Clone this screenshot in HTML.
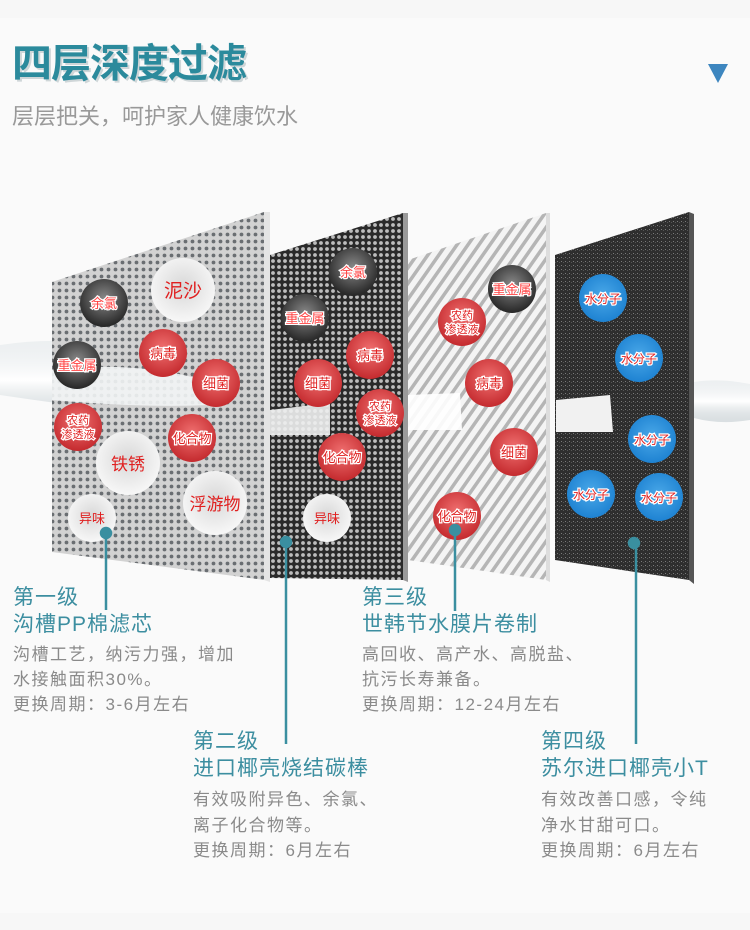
<!DOCTYPE html>
<html><head><meta charset="utf-8"><style>
html,body{margin:0;padding:0;background:#f7f7f7;}
body{width:750px;height:930px;position:relative;overflow:hidden;font-family:"Liberation Sans","Noto Sans CJK SC",sans-serif;}
.t{position:absolute;white-space:nowrap;line-height:1;}
.h{color:#3c8ea0;font-size:21px;letter-spacing:1px;}
.g{color:#8a8a8a;font-size:17px;letter-spacing:1.5px;}
</style></head><body>
<div style="position:absolute;left:0;top:18px;width:750px;height:895px;background:#fafafa"></div>
<div class="t" style="left:12px;top:44px;font-size:40px;font-weight:bold;color:#2b8a9c;text-shadow:2px 2px 0 #cfd6d8;letter-spacing:-1px">四层深度过滤</div>
<div style="position:absolute;left:708px;top:64px;width:0;height:0;border-left:10px solid transparent;border-right:10px solid transparent;border-top:19px solid #3d86bf"></div>
<div class="t" style="left:12px;top:106px;font-size:22px;color:#999">层层把关，呵护家人健康饮水</div>
<svg style="position:absolute;left:0;top:0" width="750" height="930">
<defs>
<pattern id="p1" width="7" height="7" patternUnits="userSpaceOnUse"><rect width="7" height="7" fill="#d2d2d2"/><circle cx="3.5" cy="3.5" r="1.9" fill="#6a6e72"/></pattern>
<pattern id="p2" width="6" height="6" patternUnits="userSpaceOnUse"><rect width="6" height="6" fill="#2a2a2a"/><circle cx="3" cy="3" r="1.9" fill="#bdbdbd"/></pattern>
<pattern id="p3" width="9" height="9" patternUnits="userSpaceOnUse" patternTransform="rotate(35)"><rect width="9" height="9" fill="#f4f4f4"/><rect width="3.5" height="9" fill="#b5b5b5"/></pattern>
<pattern id="p4" width="4" height="4" patternUnits="userSpaceOnUse"><rect width="4" height="4" fill="#2e2e2e"/><rect x="1" y="1" width="1" height="1" fill="#7a7a7a"/><rect x="3" y="2" width="1" height="1" fill="#555"/></pattern>
<radialGradient id="gr" cx="50%" cy="40%" r="60%"><stop offset="0" stop-color="#f07070"/><stop offset="1" stop-color="#c42a2e"/></radialGradient>
<radialGradient id="gd" cx="50%" cy="40%" r="60%"><stop offset="0" stop-color="#888"/><stop offset="1" stop-color="#262626"/></radialGradient>
<radialGradient id="gw" cx="50%" cy="45%" r="60%"><stop offset="0" stop-color="#d8d8d8"/><stop offset="1" stop-color="#fafafa"/></radialGradient>
<radialGradient id="gb" cx="50%" cy="45%" r="60%"><stop offset="0" stop-color="#4aa8e8"/><stop offset="1" stop-color="#1a7fd0"/></radialGradient>
<linearGradient id="wat" x1="0" y1="0" x2="0" y2="1"><stop offset="0" stop-color="#dfe5e8" stop-opacity="0.5"/><stop offset="0.5" stop-color="#ffffff"/><stop offset="1" stop-color="#b9c4c9" stop-opacity="0.5"/></linearGradient>
</defs>
<path d="M0 345 Q100 330 200 370 L200 420 Q100 410 0 395 Z" fill="url(#wat)"/>
<polygon points="52,282 264,212 264,580 52,552" fill="url(#p1)"/>
<polygon points="264,212 270,212 270,582 264,580" fill="#e4e4e4"/>
<path d="M52 370 Q140 360 210 382 L210 405 Q140 408 52 400Z" fill="#f2f4f5" opacity="0.9"/>
<polygon points="270,255 403,213 403,580 270,578" fill="url(#p2)"/>
<polygon points="403,213 408,213 408,582 403,580" fill="#9a9a9a"/>
<path d="M270 410 L330 403 L330 435 L270 435Z" fill="#eef0f0" opacity="0.9"/>
<polygon points="408,260 546,213 546,580 408,560" fill="url(#p3)"/>
<polygon points="546,213 550,213 550,582 546,580" fill="#ddd"/>
<path d="M408 395 L460 393 L462 430 L408 430Z" fill="#fff" opacity="0.9"/>
<polygon points="555,255 689,212 689,580 555,560" fill="url(#p4)"/>
<polygon points="689,212 694,214 694,584 689,580" fill="#555"/>
<path d="M556 400 L610 395 L613 432 L556 432Z" fill="#f1f1f1"/>
<path d="M694 382 Q720 378 750 384 L750 420 Q720 425 694 418Z" fill="url(#wat)"/>
<g font-family="Liberation Sans,Noto Sans CJK SC,sans-serif" text-anchor="middle" font-size="13">
<circle cx="104" cy="303" r="24" fill="url(#gd)"/><text x="104" y="308" fill="#ff4444" stroke="#fff" stroke-width="2.5" paint-order="stroke">余氯</text>
<circle cx="183" cy="290" r="32" fill="url(#gw)"/><text x="183" y="297" fill="#e02020" font-size="19">泥沙</text>
<circle cx="77" cy="365" r="24" fill="url(#gd)"/><text x="77" y="370" fill="#ff4444" stroke="#fff" stroke-width="2.5" paint-order="stroke">重金属</text>
<circle cx="163" cy="353" r="24" fill="url(#gr)"/><text x="163" y="358" fill="#e02020" stroke="#fff" stroke-width="2.5" paint-order="stroke">病毒</text>
<circle cx="216" cy="383" r="24" fill="url(#gr)"/><text x="216" y="388" fill="#e02020" stroke="#fff" stroke-width="2.5" paint-order="stroke">细菌</text>
<circle cx="78" cy="427" r="24" fill="url(#gr)"/><text x="78" y="424" font-size="11" fill="#e02020" stroke="#fff" stroke-width="2.5" paint-order="stroke">农药</text><text x="78" y="438" font-size="11" fill="#e02020" stroke="#fff" stroke-width="2.5" paint-order="stroke">渗透液</text>
<circle cx="192" cy="438" r="24" fill="url(#gr)"/><text x="192" y="443" fill="#e02020" stroke="#fff" stroke-width="2.5" paint-order="stroke">化合物</text>
<circle cx="128" cy="463" r="32" fill="url(#gw)"/><text x="128" y="470" fill="#e02020" font-size="17">铁锈</text>
<circle cx="215" cy="503" r="32" fill="url(#gw)"/><text x="215" y="510" fill="#e02020" font-size="17">浮游物</text>
<circle cx="92" cy="518" r="24" fill="url(#gw)"/><text x="92" y="523" fill="#e02020">异味</text>
<circle cx="353" cy="272" r="24" fill="url(#gd)"/><text x="353" y="277" fill="#ff4444" stroke="#fff" stroke-width="2.5" paint-order="stroke">余氯</text>
<circle cx="305" cy="318" r="24" fill="url(#gd)"/><text x="305" y="323" fill="#ff4444" stroke="#fff" stroke-width="2.5" paint-order="stroke">重金属</text>
<circle cx="370" cy="355" r="24" fill="url(#gr)"/><text x="370" y="360" fill="#e02020" stroke="#fff" stroke-width="2.5" paint-order="stroke">病毒</text>
<circle cx="318" cy="383" r="24" fill="url(#gr)"/><text x="318" y="388" fill="#e02020" stroke="#fff" stroke-width="2.5" paint-order="stroke">细菌</text>
<circle cx="380" cy="413" r="24" fill="url(#gr)"/><text x="380" y="410" font-size="11" fill="#e02020" stroke="#fff" stroke-width="2.5" paint-order="stroke">农药</text><text x="380" y="424" font-size="11" fill="#e02020" stroke="#fff" stroke-width="2.5" paint-order="stroke">渗透液</text>
<circle cx="342" cy="457" r="24" fill="url(#gr)"/><text x="342" y="462" fill="#e02020" stroke="#fff" stroke-width="2.5" paint-order="stroke">化合物</text>
<circle cx="327" cy="518" r="24" fill="url(#gw)"/><text x="327" y="523" fill="#e02020">异味</text>
<circle cx="512" cy="289" r="24" fill="url(#gd)"/><text x="512" y="294" fill="#ff4444" stroke="#fff" stroke-width="2.5" paint-order="stroke">重金属</text>
<circle cx="462" cy="322" r="24" fill="url(#gr)"/><text x="462" y="319" font-size="11" fill="#e02020" stroke="#fff" stroke-width="2.5" paint-order="stroke">农药</text><text x="462" y="333" font-size="11" fill="#e02020" stroke="#fff" stroke-width="2.5" paint-order="stroke">渗透液</text>
<circle cx="489" cy="383" r="24" fill="url(#gr)"/><text x="489" y="388" fill="#e02020" stroke="#fff" stroke-width="2.5" paint-order="stroke">病毒</text>
<circle cx="514" cy="452" r="24" fill="url(#gr)"/><text x="514" y="457" fill="#e02020" stroke="#fff" stroke-width="2.5" paint-order="stroke">细菌</text>
<circle cx="457" cy="516" r="24" fill="url(#gr)"/><text x="457" y="521" fill="#e02020" stroke="#fff" stroke-width="2.5" paint-order="stroke">化合物</text>
<g font-size="12">
<circle cx="603" cy="298" r="24" fill="url(#gb)"/><text x="603" y="303" fill="#e02020" stroke="#fff" stroke-width="2.5" paint-order="stroke">水分子</text>
<circle cx="639" cy="358" r="24" fill="url(#gb)"/><text x="639" y="363" fill="#e02020" stroke="#fff" stroke-width="2.5" paint-order="stroke">水分子</text>
<circle cx="652" cy="439" r="24" fill="url(#gb)"/><text x="652" y="444" fill="#e02020" stroke="#fff" stroke-width="2.5" paint-order="stroke">水分子</text>
<circle cx="591" cy="494" r="24" fill="url(#gb)"/><text x="591" y="499" fill="#e02020" stroke="#fff" stroke-width="2.5" paint-order="stroke">水分子</text>
<circle cx="659" cy="497" r="24" fill="url(#gb)"/><text x="659" y="502" fill="#e02020" stroke="#fff" stroke-width="2.5" paint-order="stroke">水分子</text>
</g>
</g>
<g stroke="#3a8fa0" stroke-width="2.5" fill="#3a8fa0">
<line x1="106" y1="533" x2="106" y2="610"/><circle cx="106" cy="533" r="5"/>
<line x1="286" y1="542" x2="286" y2="744"/><circle cx="286" cy="542" r="5"/>
<line x1="455" y1="530" x2="455" y2="611"/><circle cx="455" cy="530" r="5"/>
<line x1="636" y1="543" x2="636" y2="744"/><circle cx="634" cy="543" r="5"/>
</g>
</svg>
<div class="t h" style="left:13px;top:587px">第一级</div>
<div class="t h" style="left:13px;top:614px">沟槽PP棉滤芯</div>
<div class="t g" style="left:13px;top:646px">沟槽工艺，纳污力强，增加</div>
<div class="t g" style="left:13px;top:671px">水接触面积30%。</div>
<div class="t g" style="left:13px;top:696px">更换周期：3-6月左右</div>
<div class="t h" style="left:362px;top:587px">第三级</div>
<div class="t h" style="left:362px;top:614px">世韩节水膜片卷制</div>
<div class="t g" style="left:362px;top:646px">高回收、高产水、高脱盐、</div>
<div class="t g" style="left:362px;top:671px">抗污长寿兼备。</div>
<div class="t g" style="left:362px;top:696px">更换周期：12-24月左右</div>
<div class="t h" style="left:193px;top:731px">第二级</div>
<div class="t h" style="left:193px;top:758px">进口椰壳烧结碳棒</div>
<div class="t g" style="left:193px;top:791px">有效吸附异色、余氯、</div>
<div class="t g" style="left:193px;top:817px">离子化合物等。</div>
<div class="t g" style="left:193px;top:842px">更换周期：6月左右</div>
<div class="t h" style="left:541px;top:731px">第四级</div>
<div class="t h" style="left:541px;top:758px">苏尔进口椰壳小T</div>
<div class="t g" style="left:541px;top:791px">有效改善口感，令纯</div>
<div class="t g" style="left:541px;top:817px">净水甘甜可口。</div>
<div class="t g" style="left:541px;top:842px">更换周期：6月左右</div>
</body></html>
